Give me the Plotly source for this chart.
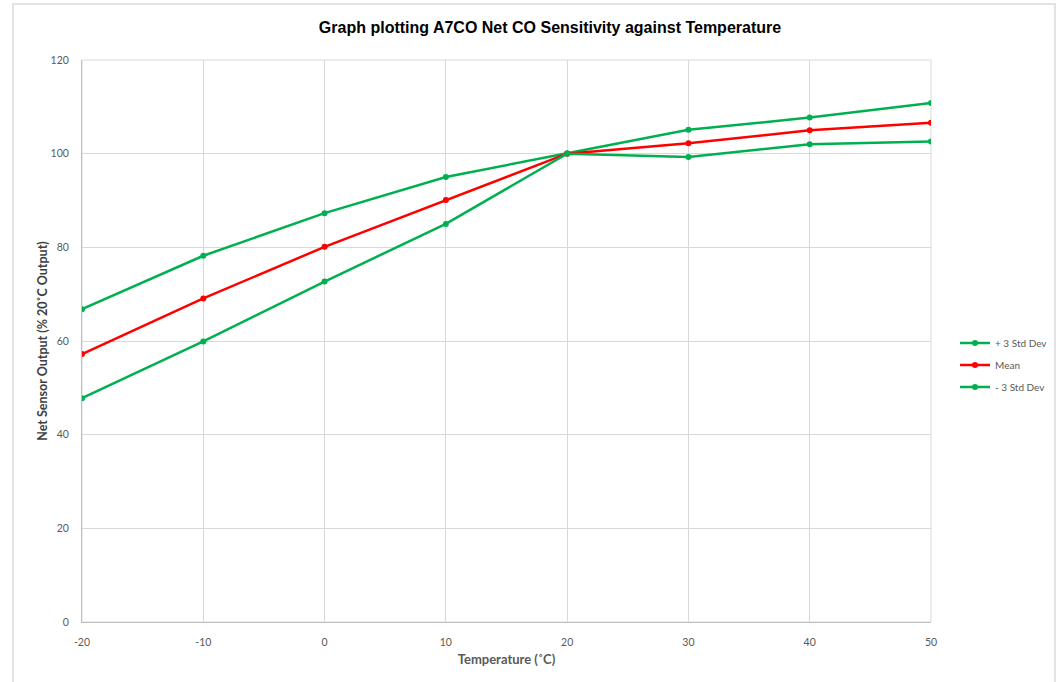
import plotly.graph_objects as go

temps = [-20, -10, 0, 10, 20, 30, 40, 50]
temp_labels = ["-20", "-10", "0", "10", "20", "30", "40", "50"]
plus3 = [66.8, 78.2, 87.3, 95.0, 100.1, 105.1, 107.7, 110.8]
mean = [57.2, 69.1, 80.1, 90.1, 100.0, 102.2, 105.0, 106.6]
minus3 = [47.8, 59.9, 72.7, 85.0, 100.0, 99.3, 102.0, 102.6]
names = ["+ 3 Std Dev", "Mean", "- 3 Std Dev"]
colors = ["#00B050", "#FF0000", "#00B050"]

fig = go.Figure()
for name, vals, col in zip(names, [plus3, mean, minus3], colors):
    fig.add_trace(go.Scatter(
        x=temps, y=vals, name=name, mode="lines+markers", legendgroup=name,
        line=dict(color=col, width=2.5),
        marker=dict(color=col, size=6),
    ))

W, H = 1059, 682
L, R, T, B = 82, 931, 60, 622
pw, ph = R - L, B - T

fig.update_layout(
    width=W, height=H,
    margin=dict(l=L, r=W - R, t=T, b=H - B, autoexpand=False),
    paper_bgcolor="white", plot_bgcolor="white",
    title=dict(text="<b>Graph plotting A7CO Net CO Sensitivity against Temperature</b>",
               x=550 / W, xref="container", xanchor="center",
               y=1 - 27 / H, yref="container", yanchor="middle",
               font=dict(family="Liberation Sans, Arial", size=16, color="black")),
    font=dict(family="Lato, Open Sans", size=10, color="#595959"),
    xaxis=dict(range=[-20, 50], tickvals=temps, ticktext=temp_labels,
               showgrid=True, gridcolor="#D9D9D9",
               gridwidth=1, zeroline=False, showline=True, linecolor="#BFBFBF",
               linewidth=1, ticks="", ticklabelstandoff=10,
               tickfont=dict(size=10.5, color="#595959"),
               title=dict(text="<b>Temperature (˚C)</b>", standoff=8,
                          font=dict(size=13, color="#595959"))),
    yaxis=dict(range=[0, 120], dtick=20, showgrid=True, gridcolor="#D9D9D9",
               gridwidth=1, zeroline=False, showline=True, linecolor="#BFBFBF",
               linewidth=1, ticks="", ticklabelstandoff=10,
               tickfont=dict(size=10.5, color="#595959"),
               title=dict(text="<b>Net Sensor Output (% 20˚C Output)</b>", standoff=0,
                          font=dict(size=12.5, color="#404040"))),
    legend=dict(x=(955 - L) / pw, xanchor="left", y=(B - 365) / ph, yanchor="middle",
                bgcolor="rgba(0,0,0,0)", font=dict(size=10, color="#595959"),
                itemwidth=30, tracegroupgap=3),
    showlegend=True,
)

fig.add_shape(type="rect", xref="paper", yref="paper",
              x0=(13 - L) / pw, x1=(1055 - L) / pw,
              y0=(B - 690) / ph, y1=(B - 4) / ph,
              line=dict(color="#D9D9D9", width=1.5), fillcolor="rgba(0,0,0,0)",
              layer="below")
fig.add_shape(type="rect", xref="paper", yref="paper", x0=0, x1=1, y0=0, y1=1,
              line=dict(color="#D9D9D9", width=1), fillcolor="rgba(0,0,0,0)", layer="below")

fig.write_html("out.html", config={"displayModeBar": False},
               post_script="document.body.style.margin='0';")
